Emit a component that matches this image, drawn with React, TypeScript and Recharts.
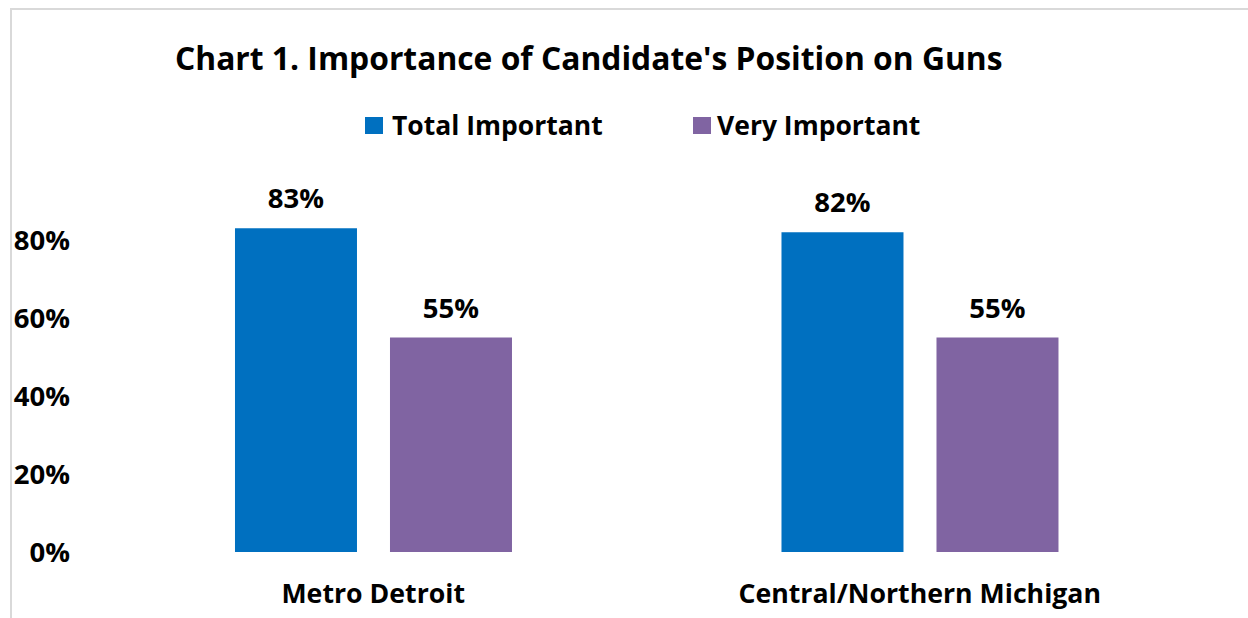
import React from "react";
import { BarChart, Bar, XAxis, YAxis, LabelList } from "recharts";

const categories = ["Metro Detroit", "Central/Northern Michigan"];
const totalImportant = [0.83, 0.82];
const veryImportant = [0.55, 0.55];
const yTicks = [0, 0.2, 0.4, 0.6, 0.8];
const seriesNames = ["Total Important", "Very Important"];
const colors = ["#0070C0", "#8064A2"];

const data = categories.map((c, i) => ({
  name: c,
  total: totalImportant[i],
  very: veryImportant[i],
}));

const FONT = "'Open Sans', Lato, sans-serif";
const pct = (v: number) => `${Math.round(v * 100)}%`;

export default function App() {
  return (
    <div
      style={{
        position: "fixed",
        left: 0,
        top: 0,
        width: 1248,
        height: 618,
        overflow: "hidden",
        background: "#fff",
        fontFamily: FONT,
      }}
    >
      <div
        style={{
          position: "absolute",
          left: 10,
          top: 8,
          width: 1300,
          height: 700,
          border: "2px solid #d9d9d9",
          boxSizing: "border-box",
        }}
      />
      <div
        style={{
          position: "absolute",
          left: 175,
          top: 38,
          fontSize: 31.8,
          fontWeight: 700,
          color: "#000",
          whiteSpace: "nowrap",
          lineHeight: "40px",
        }}
      >
        Chart 1. Importance of Candidate's Position on Guns
      </div>
      <div
        style={{
          position: "absolute",
          top: 108,
          left: 365,
          display: "flex",
          alignItems: "center",
          fontSize: 26.5,
          fontWeight: 700,
          lineHeight: "34px",
          whiteSpace: "nowrap",
        }}
      >
        <span style={{ display: "inline-block", width: 18, height: 17, background: colors[0], marginRight: 9 }} />
        <span style={{ width: 301 }}>{seriesNames[0]}</span>
        <span style={{ display: "inline-block", width: 18, height: 17, background: colors[1], marginRight: 6 }} />
        <span>{seriesNames[1]}</span>
      </div>
      <div style={{ position: "absolute", left: 0, top: 0 }}>
        <BarChart
          width={1248}
          height={618}
          data={data}
          margin={{ top: 162, right: 55, bottom: 16, left: 0 }}
          barCategoryGap="24.7%"
          barGap={33}
        >
          <XAxis
            dataKey="name"
            axisLine={false}
            tickLine={false}
            tickSize={0}
            tickMargin={32}
            height={50}
            tick={{ fill: "#000", fontSize: 26.7, fontWeight: 700, fontFamily: FONT }}
          />
          <YAxis
            domain={[0, 1]}
            ticks={yTicks}
            tickFormatter={pct}
            axisLine={false}
            tickLine={false}
            tickSize={0}
            tickMargin={30}
            width={100}
            tick={{ fill: "#000", fontSize: 27.5, fontWeight: 700, fontFamily: FONT }}
          />
          <Bar dataKey="total" fill={colors[0]} isAnimationActive={false}>
            <LabelList
              dataKey="total"
              position="top"
              offset={20}
              formatter={pct}
              style={{ fill: "#000", fontSize: 27.5, fontWeight: 700, fontFamily: FONT }}
            />
          </Bar>
          <Bar dataKey="very" fill={colors[1]} isAnimationActive={false}>
            <LabelList
              dataKey="very"
              position="top"
              offset={20}
              formatter={pct}
              style={{ fill: "#000", fontSize: 27.5, fontWeight: 700, fontFamily: FONT }}
            />
          </Bar>
        </BarChart>
      </div>
    </div>
  );
}
